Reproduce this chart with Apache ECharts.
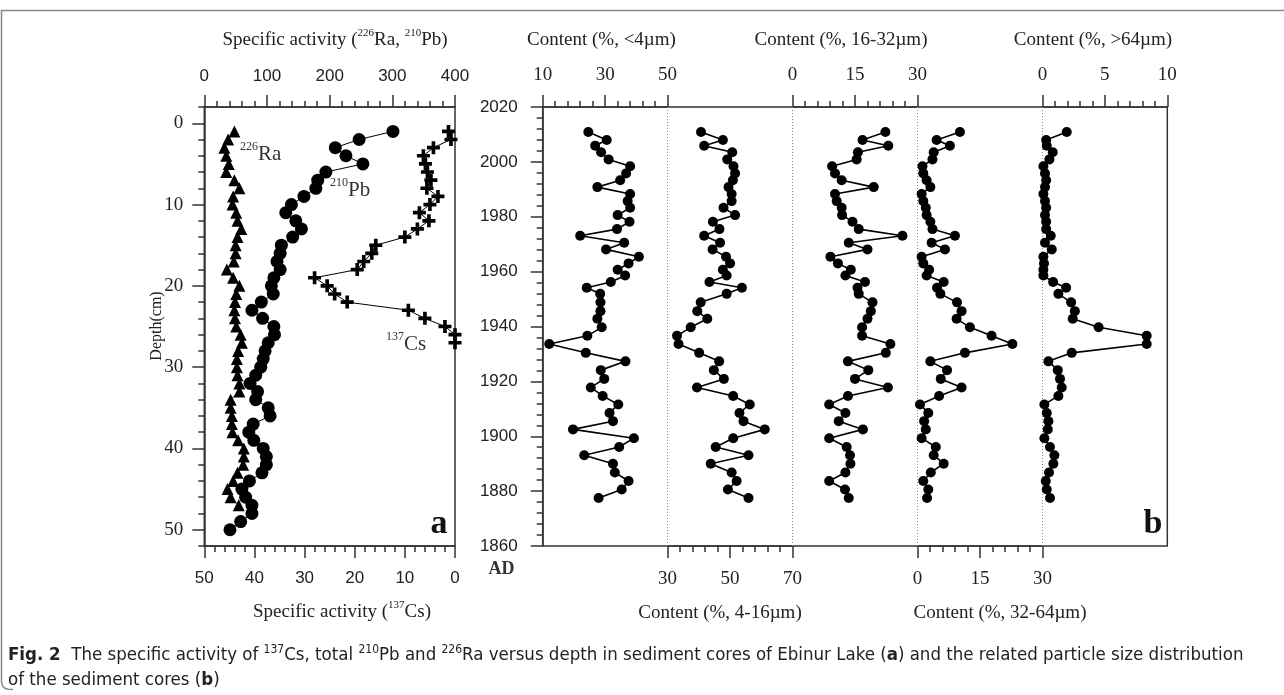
<!DOCTYPE html>
<html>
<head>
<meta charset="utf-8">
<script src="https://cdn.jsdelivr.net/npm/echarts@6/dist/echarts.min.js"></script>
<style>
html,body{margin:0;padding:0;background:#fff;}
#c{width:1284px;height:695px;}
</style>
</head>
<body>
<div id="c"></div>
<script>
// ---------- Panel a data (depth in cm) ----------
const depthRa = [1,2,3,4,5,6,7,8,9,10,11,12,13,14,15,16,17,18,19,20,21,22,23,24,25,26,27,28,29,30,31,32,33,34,35,36,37,38,39,40,41,42,43,44,45,46,47];
const raValues = [48,38,32,35,39,35,48,56,46,45,51,53,59,53,50,50,47,36,46,56,51,49,48,49,51,58,60,54,52,52,53,56,56,42,42,44,44,45,54,63,63,62,53,46,37,42,55];
const depthPb = [1,2,3,4,5,6,7,8,9,10,11,12,13,14,15,16,17,18,19,20,21,22,23,24,25,26,27,28,29,30,31,32,33,34,35,36,37,38,39,40,41,42,43,44,45,46,47,48,49,50];
const pbValues = [301,247,209,226,253,194,181,178,159,139,130,146,155,141,123,121,116,121,111,107,110,91,76,93,111,112,102,97,94,90,82,73,85,82,102,105,78,71,79,94,99,99,92,72,60,66,76,76,58,41];
const depthCs = [1,2,3,4,5,6,7,8,9,10,11,12,13,14,15,16,17,18,19,20,21,22,23,24,25,26,27];
const csValues = [1.3,0.8,4.3,6.3,5.9,5.5,4.8,5.6,3.4,5.0,7.1,5.2,7.5,10,15.8,16.6,18.2,19.5,28,25.5,24,21.5,9.3,6,2,0,0];
const depthMajorTicks = [0,10,20,30,40,50];
const depthMinorTicks = [-2,2,4,6,8,12,14,16,18,22,24,26,28,32,34,36,38,42,44,46,48,52];

// ---------- Panel b data (year AD) ----------
const years = [2010.9,2008.0,2005.9,2003.5,2000.9,1998.4,1995.8,1993.3,1990.8,1988.3,1985.7,1983.3,1980.6,1978.2,1975.5,1973.1,1970.5,1968.1,1965.4,1963.0,1960.7,1958.6,1956.2,1954.1,1951.9,1948.8,1945.6,1942.8,1939.7,1936.6,1933.6,1930.4,1927.3,1924.1,1920.9,1917.8,1914.7,1911.6,1908.5,1905.5,1902.5,1899.3,1896.1,1893.1,1890.0,1886.8,1883.7,1880.6,1877.5];
const clayLt4 = [24.6,30.5,26.8,28.7,31.1,38.0,36.7,34.8,27.5,38.0,37.2,38.0,34.0,37.8,33.8,22.0,36.1,30.3,40.8,37.5,34.0,36.4,31.8,24.1,28.4,28.5,28.5,27.5,28.9,24.3,12.1,23.8,36.5,28.6,29.7,25.4,29.2,34.2,31.4,32.5,19.7,39.2,34.5,23.3,32.5,33.1,37.5,35.3,27.9];
const silt4to16 = [40.7,47.7,41.7,50.7,49.1,51.1,51.6,50.9,49.5,50.5,50.5,47.9,51.6,44.5,46.6,41.7,46.8,44.4,48.7,50.0,47.7,48.9,43.4,53.8,48.9,40.6,39.5,42.7,37.4,33.0,33.5,40.1,46.5,44.8,48.0,39.4,51.0,56.3,53.0,54.3,61.1,51.0,45.4,55.9,43.8,50.5,52.1,49.3,55.9];
const silt16to32 = [22.3,16.8,23.0,15.7,15.4,9.5,10.2,11.8,19.5,10.2,10.6,11.8,11.9,14.4,15.9,26.4,13.5,18.0,9.1,10.9,14.0,12.7,17.4,15.6,15.9,19.2,18.8,18.0,16.7,16.7,23.5,22.4,13.3,18.2,15.0,22.9,13.3,8.8,12.7,11.1,16.9,8.8,13.0,13.8,13.9,12.7,8.8,12.6,13.5];
const silt32to64 = [10.2,4.6,7.8,3.9,3.6,1.2,1.4,2.2,3.1,1.0,1.4,2.0,2.2,3.1,3.6,9.0,3.4,6.6,1.0,1.4,2.8,2.2,6.3,4.7,5.5,9.5,10.6,9.4,12.6,17.8,22.8,11.4,3.1,7.1,5.6,10.6,5.2,0.6,2.6,1.6,2.0,1.0,4.4,3.9,6.3,3.2,1.4,2.6,2.3];
const sandGt64 = [1.95,0.3,0.35,0.83,0.56,0.08,0.21,0.3,0.21,0.08,0.21,0.3,0.21,0.3,0.3,0.67,0.21,0.75,0.08,0.13,0.08,0.08,0.86,1.9,1.28,2.3,2.6,2.43,4.5,8.35,8.35,2.35,0.48,1.23,1.41,1.55,1.28,0.16,0.35,0.48,0.43,0.16,0.61,0.96,0.88,0.53,0.27,0.35,0.61];

const SERIF = '"Liberation Serif","Times New Roman",serif';
const SANS = '"Liberation Sans",Arial,sans-serif';
const NARROW = '"Liberation Sans Narrow","DejaVu Sans Condensed","Noto Sans",sans-serif';
const AX = '#333';
const lineS = {color: AX, width: 1.5};
const plain = (v) => String(v);

function pairs(xs, ys) { return xs.map((v, i) => [v, ys[i]]); }

const chart = echarts.init(document.getElementById('c'), null, {renderer: 'canvas'});

const colW = 624.6 / 5;
const bLeft = 542.7;
const gTop = 107, gH = 439;

function colX(i, pos, min, max, interval) {
  return {
    type: 'value', gridIndex: i + 1, position: pos, min: min, max: max, interval: interval,
    axisLine: {show: true, onZero: false, lineStyle: lineS},
    axisTick: {show: true, inside: false, length: 12, lineStyle: lineS},
    minorTick: {show: true, splitNumber: 5, length: 6, lineStyle: lineS},
    axisLabel: {fontFamily: SERIF, fontSize: 19, color: '#222', margin: pos === 'top' ? 22 : 24, showMinLabel: true, showMaxLabel: true, formatter: plain},
    splitLine: {show: false}, minorSplitLine: {show: false}
  };
}
function hiddenY(i) {
  return {type: 'value', gridIndex: i + 1, min: 1860, max: 2020, show: false, splitLine: {show: false}};
}
const dotted = (v) => ({
  silent: true, symbol: ['none', 'none'], animation: false,
  label: {show: false},
  lineStyle: {type: [1, 2], color: '#8a8a8a', width: 1},
  data: [{xAxis: v}]
});
function colSeries(i, data, ml) {
  const s = {
    type: 'line', xAxisIndex: i + 2, yAxisIndex: i + 3,
    data: pairs(data, years), symbol: 'circle', symbolSize: 10, clip: false,
    itemStyle: {color: '#000'}, lineStyle: {color: '#000', width: 1.6}, z: 5
  };
  if (ml !== undefined) s.markLine = dotted(ml);
  return s;
}

const plusPath = 'path://M3.6,0 H6.4 V3.6 H10 V6.4 H6.4 V10 H3.6 V6.4 H0 V3.6 H3.6 Z';

const option = {
  animation: false,
  backgroundColor: '#fff',
  grid: [
    {left: 204.3, top: gTop, width: 250.7, height: gH, show: true, borderColor: AX, borderWidth: 1.5},
    {left: bLeft, top: gTop, width: colW, height: gH},
    {left: bLeft + colW, top: gTop, width: colW, height: gH},
    {left: bLeft + 2 * colW, top: gTop, width: colW, height: gH},
    {left: bLeft + 3 * colW, top: gTop, width: colW, height: gH},
    {left: bLeft + 4 * colW, top: gTop, width: colW, height: gH},
    {left: bLeft, top: gTop, width: 624.6, height: gH, show: true, borderColor: AX, borderWidth: 1.5}
  ],
  xAxis: [
    {type: 'value', gridIndex: 0, position: 'top', min: 0, max: 400, interval: 100,
      axisLine: {show: true, onZero: false, lineStyle: lineS},
      axisTick: {show: true, inside: false, length: 12, lineStyle: lineS},
      minorTick: {show: true, splitNumber: 5, length: 6, lineStyle: lineS},
      axisLabel: {fontFamily: SANS, fontSize: 17, color: '#222', margin: 22, showMinLabel: true, showMaxLabel: true, formatter: plain},
      splitLine: {show: false}},
    {type: 'value', gridIndex: 0, position: 'bottom', min: 0, max: 50, interval: 10, inverse: true,
      axisLine: {show: true, onZero: false, lineStyle: lineS},
      axisTick: {show: true, inside: false, length: 12, lineStyle: lineS},
      minorTick: {show: true, splitNumber: 5, length: 6, lineStyle: lineS},
      axisLabel: {fontFamily: SANS, fontSize: 17, color: '#222', margin: 24, showMinLabel: true, showMaxLabel: true, formatter: plain},
      splitLine: {show: false}},
    colX(0, 'top', 10, 50, 20),
    colX(1, 'bottom', 30, 70, 20),
    colX(2, 'top', 0, 30, 15),
    colX(3, 'bottom', 0, 30, 15),
    colX(4, 'top', 0, 10, 5),
    {type: 'value', gridIndex: 6, min: 0, max: 1, show: false, splitLine: {show: false}}
  ],
  yAxis: [
    {type: 'value', gridIndex: 0, min: -2, max: 52, inverse: true, position: 'left',
      axisLine: {show: true, onZero: false, lineStyle: lineS},
      axisTick: {show: true, inside: false, length: 12, customValues: depthMajorTicks, lineStyle: lineS},
      axisLabel: {customValues: depthMajorTicks, fontFamily: SERIF, fontSize: 19, color: '#222', margin: 21, formatter: plain},
      splitLine: {show: false}},
    {type: 'value', gridIndex: 0, min: -2, max: 52, inverse: true, position: 'left',
      axisLine: {show: false},
      axisTick: {show: true, inside: false, length: 6, customValues: depthMinorTicks, lineStyle: lineS},
      axisLabel: {show: false}, splitLine: {show: false}},
    {type: 'value', gridIndex: 6, min: 1860, max: 2020, interval: 20, position: 'left',
      axisLine: {show: true, onZero: false, lineStyle: lineS},
      axisTick: {show: true, inside: false, length: 12, lineStyle: lineS},
      minorTick: {show: true, splitNumber: 5, length: 6, lineStyle: lineS},
      axisLabel: {fontFamily: SANS, fontSize: 17, color: '#222', margin: 25, showMinLabel: true, showMaxLabel: true, formatter: plain},
      splitLine: {show: false}},
    hiddenY(0), hiddenY(1), hiddenY(2), hiddenY(3), hiddenY(4)
  ],
  series: [
    {type: 'line', xAxisIndex: 0, yAxisIndex: 0, data: pairs(raValues, depthRa), symbol: 'triangle', symbolSize: 12, clip: false,
      itemStyle: {color: '#000'}, lineStyle: {color: '#000', width: 0.8}},
    {type: 'line', xAxisIndex: 0, yAxisIndex: 0, data: pairs(pbValues, depthPb), symbol: 'circle', symbolSize: 13, clip: false,
      itemStyle: {color: '#000'}, lineStyle: {color: '#000', width: 1}},
    {type: 'line', xAxisIndex: 1, yAxisIndex: 0, data: pairs(csValues, depthCs), symbol: plusPath, symbolSize: 13, clip: false,
      itemStyle: {color: '#000'}, lineStyle: {color: '#000', width: 1}},
    colSeries(0, clayLt4, 50),
    colSeries(1, silt4to16, 70),
    colSeries(2, silt16to32, 30),
    colSeries(3, silt32to64, 30),
    colSeries(4, sandGt64)
  ],
  graphic: []
};

const serifRich = {
  n: {fontFamily: SERIF, fontSize: 19, lineHeight: 24, fill: '#222'},
  s: {fontFamily: SERIF, fontSize: 11, lineHeight: 13, verticalAlign: 'top', fill: '#222'}
};
const inlineRich = {
  n: {fontFamily: SERIF, fontSize: 21, lineHeight: 26, fill: '#333'},
  s: {fontFamily: SERIF, fontSize: 12, lineHeight: 14, verticalAlign: 'top', fill: '#333'}
};
function txt(x, y, text, extra) {
  return Object.assign({type: 'text', x: x, y: y, z: 100,
    style: Object.assign({text: text, fill: '#222', align: 'center', verticalAlign: 'middle', fontFamily: SERIF, fontSize: 19}, extra || {})});
}
const capRich = {
  n: {fontFamily: NARROW, fontSize: 18.5, lineHeight: 22, fill: '#222'},
  b: {fontFamily: NARROW, fontSize: 18.5, lineHeight: 22, fontWeight: 'bold', fill: '#222'},
  s: {fontFamily: NARROW, fontSize: 12, lineHeight: 13, verticalAlign: 'top', fill: '#222'}
};
option.graphic = [
  {type: 'polyline', z: 1, shape: {points: [[1284,10.5],[1.5,10.5],[1.5,682],[2.3,685.5],[4.5,688],[8,689.3],[13,689.5]]},
    style: {fill: 'none', stroke: '#888', lineWidth: 1.5}},
  txt(335, 40, '{n|Specific activity (}{s|226}{n|Ra, }{s|210}{n|Pb)}', {rich: serifRich}),
  txt(342, 612, '{n|Specific activity (}{s|137}{n|Cs)}', {rich: serifRich}),
  Object.assign(txt(157, 326, 'Depth(cm)', {fontSize: 16}), {rotation: Math.PI / 2}),
  txt(601.5, 40, 'Content (%, <4µm)'),
  txt(841, 40, 'Content (%, 16-32µm)'),
  txt(1093, 40, 'Content (%, >64µm)'),
  txt(720, 613, 'Content (%, 4-16µm)'),
  txt(1000, 613, 'Content (%, 32-64µm)'),
  txt(240, 154, '{s|226}{n|Ra}', {rich: inlineRich, align: 'left'}),
  txt(330, 190, '{s|210}{n|Pb}', {rich: inlineRich, align: 'left'}),
  txt(386, 344, '{s|137}{n|Cs}', {rich: inlineRich, align: 'left'}),
  txt(439, 524, 'a', {fontSize: 34, fontWeight: 'bold', fill: '#111'}),
  txt(1153, 524, 'b', {fontSize: 34, fontWeight: 'bold', fill: '#111'}),
  txt(501.5, 569, 'AD', {fontSize: 18, fontWeight: 'bold', fill: '#333'}),
  txt(8, 655, '{b|Fig. 2}{n|  The specific activity of }{s|137}{n|Cs, total }{s|210}{n|Pb and }{s|226}{n|Ra versus depth in sediment cores of Ebinur Lake (}{b|a}{n|) and the related particle size distribution}', {
    align: 'left', rich: capRich}),
  txt(8, 680, '{n|of the sediment cores (}{b|b}{n|)}', {align: 'left', rich: capRich})
];

chart.setOption(option);
</script>
</body>
</html>
